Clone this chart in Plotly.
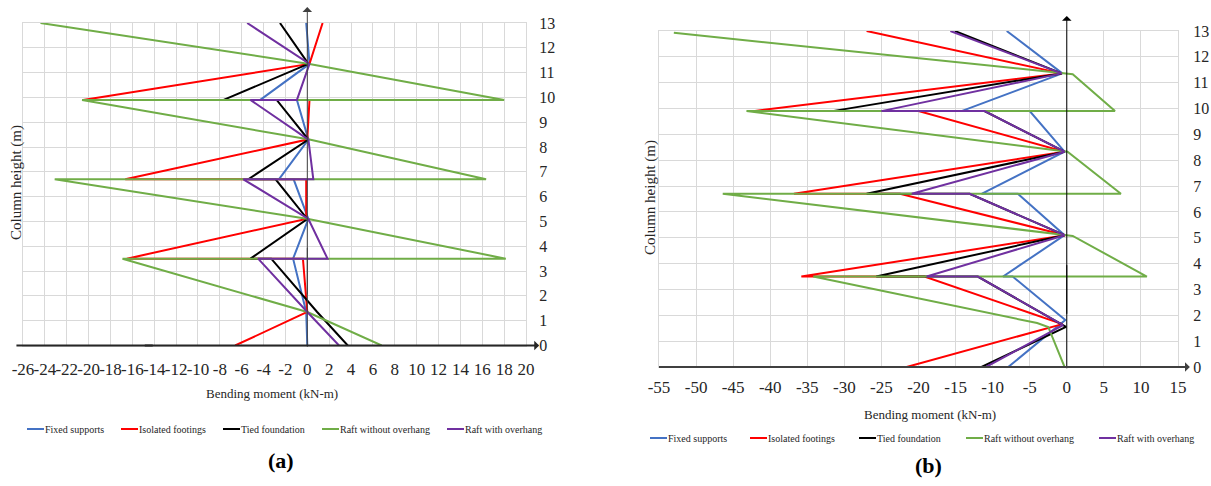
import plotly.graph_objects as go

# ---------------- data ----------------
SERIES = ["Fixed supports", "Isolated footings", "Tied foundation",
          "Raft without overhang", "Raft with overhang"]
COLORS = ["#4472C4", "#FF0000", "#000000", "#70AD47", "#7030A0"]

# Panel (a): column heights (m) and bending moments (kN-m)
A_H = [13, 11.35, 9.9, 9.9, 8.3, 6.7, 6.7, 5.1, 3.5, 3.5, 1.35, 0]
A_FIXED = [-0.1, 0.2, -4.3, -0.95, 0.1, -2.6, -1.25, 0.1, -1.3, -1.3, -0.1, 0.0]
A_ISOLATED = [1.4, 0.2, -20.5, 0.2, 0.0, -16.65, -0.1, -0.1, -16.5, -0.4, 0.0, -6.6]
A_TIED = [-2.5, 0.1, -7.65, -2.8, 0.1, -5.4, -2.9, 0.0, -5.2, -3.3, 0.9, 3.7]
A_RAFT_NO = [-24.4, 0.2, 18.0, -20.6, 0.2, 16.35, -23.1, 0.1, 18.15, -16.9, 0.0, 6.8]
A_RAFT_OH = [-5.5, 0.2, -0.95, -5.2, 0.1, 0.55, -5.85, 0.1, 1.85, -4.5, 0.0, 2.9]

# Panel (b)
B_FIXED_H = [13, 11.36, 9.9, 9.9, 8.33, 6.7, 6.7, 5.1, 3.5, 3.5, 1.82, 0]
B_FIXED = [-8.1, -0.6, -14.2, -5.0, -0.3, -11.5, -6.6, -0.3, -8.6, -7.3, -0.2, -7.9]
B_ISOLATED_H = [13, 11.36, 9.9, 9.9, 8.33, 6.7, 6.7, 5.1, 3.5, 3.5, 1.66, 0]
B_ISOLATED = [-27.0, -0.7, -42.3, -20.0, -0.3, -36.8, -22.5, -0.2, -35.8, -19.2, -0.6, -21.6]
B_TIED_H = [13, 11.36, 9.9, 9.9, 8.33, 6.7, 6.7, 5.1, 3.5, 3.5, 1.55, 0]
B_TIED = [-15.1, -0.7, -31.6, -11.1, -0.3, -27.0, -13.1, -0.3, -25.7, -12.0, -0.1, -11.5]
B_RAFT_NO_H = [12.93, 11.36, 11.33, 9.9, 9.9, 8.33, 6.7, 6.7, 5.1, 5.07, 3.5, 3.5, 1.7, 1.55, 0]
B_RAFT_NO = [-53.0, -0.6, 0.8, 6.5, -43.2, 0.1, 7.3, -46.4, -0.3, 0.8, 10.8, -34.2, -4.0, -2.5, -0.3]
B_RAFT_OH_H = [13, 11.36, 9.9, 9.9, 8.33, 6.7, 6.7, 5.1, 3.5, 3.5, 1.62, 0]
B_RAFT_OH = [-15.7, -0.7, -25.0, -11.1, -0.3, -20.9, -13.1, -0.3, -18.9, -12.0, -0.5, -10.9]

A_X_TICKS = [-26, -24, -22, -20, -18, -16, -14, -12, -10, -8, -6, -4, -2,
             0, 2, 4, 6, 8, 10, 12, 14, 16, 18, 20]
A_X_LABELS = ["-26", "-24", "-22", "-20", "-18", "-16", "-14", "-12", "-10", "-8",
              "-6", "-4", "-2", "0", "2", "4", "6", "8", "10", "12", "14", "16", "18", "20"]
B_X_TICKS = [-55, -50, -45, -40, -35, -30, -25, -20, -15, -10, -5, 0, 5, 10, 15]
B_X_LABELS = ["-55", "-50", "-45", "-40", "-35", "-30", "-25", "-20", "-15", "-10",
              "-5", "0", "5", "10", "15"]
Y_TICKS = [0, 1, 2, 3, 4, 5, 6, 7, 8, 9, 10, 11, 12, 13]
Y_LABELS = ["0", "1", "2", "3", "4", "5", "6", "7", "8", "9", "10", "11", "12", "13"]

X_TITLE = "Bending moment (kN-m)"
Y_TITLE = "Column height (m)"
PANEL_LABELS = ["(a)", "(b)"]

# ---------------- layout constants ----------------
W, H = 1211, 486
FONT = "Liberation Serif, DejaVu Serif, serif"
TXT = "#262626"
GRID = "#d9d9d9"


def fx(px):
    return px / W


def fy(py):
    return 1 - py / H


fig = go.Figure()

a_series = [(A_FIXED, A_H), (A_ISOLATED, A_H), (A_TIED, A_H), (A_RAFT_NO, A_H), (A_RAFT_OH, A_H)]
b_series = [(B_FIXED, B_FIXED_H), (B_ISOLATED, B_ISOLATED_H), (B_TIED, B_TIED_H),
            (B_RAFT_NO, B_RAFT_NO_H), (B_RAFT_OH, B_RAFT_OH_H)]

for i, (xs, hs) in enumerate(a_series):
    fig.add_trace(go.Scatter(x=xs, y=hs, mode="lines", name=SERIES[i],
                             line=dict(color=COLORS[i], width=2),
                             xaxis="x", yaxis="y", showlegend=False))
for i, (xs, hs) in enumerate(b_series):
    fig.add_trace(go.Scatter(x=xs, y=hs, mode="lines", name=SERIES[i],
                             line=dict(color=COLORS[i], width=2),
                             xaxis="x2", yaxis="y2", showlegend=False))

axis_common = dict(showgrid=True, gridcolor=GRID, gridwidth=1, zeroline=False,
                   showline=True, mirror=True, linecolor=GRID, linewidth=1,
                   ticks="", tickangle=0, automargin=False)
xfont = dict(family=FONT, size=17, color=TXT)
yfont = dict(family=FONT, size=16, color=TXT)

fig.update_layout(
    width=W, height=H, margin=dict(l=0, r=0, t=0, b=0, pad=0), autosize=False,
    paper_bgcolor="white", plot_bgcolor="white", showlegend=False,
    xaxis=dict(domain=[fx(23), fx(526)], range=[-26, 20], tickmode="array",
               tickvals=A_X_TICKS, ticktext=A_X_LABELS, anchor="y",
               ticklabelstandoff=8, tickfont=xfont, **axis_common),
    yaxis=dict(domain=[fy(345.5), fy(23)], range=[0, 13], tickmode="array",
               tickvals=Y_TICKS, ticktext=Y_LABELS, side="right", anchor="x",
               ticklabelstandoff=9, tickfont=yfont, **axis_common),
    xaxis2=dict(domain=[fx(659), fx(1178)], range=[-55, 15], tickmode="array",
                tickvals=B_X_TICKS, ticktext=B_X_LABELS, anchor="y2",
                ticklabelstandoff=5, tickfont=xfont, **axis_common),
    yaxis2=dict(domain=[fy(367), fy(31)], range=[0, 13], tickmode="array",
                tickvals=Y_TICKS, ticktext=Y_LABELS, side="right", anchor="x2",
                ticklabelstandoff=11, tickfont=yfont, **axis_common),
)

ann = []


def arrow(xr, yr, x, y, axv, ayv, head, size, width, color):
    return dict(x=x, y=y, ax=axv, ay=ayv, xref=xr, yref=yr, axref=xr, ayref=yr,
                text="", showarrow=True, arrowhead=head, arrowsize=size,
                arrowwidth=width, arrowcolor=color)


# axis arrows (panel a)
ann.append(arrow("x", "y", 0, 13.64, 0, 2, 1, 1.6, 1, "#404040"))
ann.append(arrow("x", "y", 0, -0.05, 0, 4, 0, 1, 1, "#404040"))
ann.append(arrow("x", "y", 21.2, 0, -15, 0, 1, 0.9, 1.8, "#262626"))
ann.append(arrow("x", "y", -26.6, 0, -14, 0, 0, 1, 1.8, "#262626"))
# axis arrows (panel b)
ann.append(arrow("x2", "y2", 0, 13.58, 0, 2, 1, 1.6, 1, "#000000"))
ann.append(arrow("x2", "y2", 0, -0.05, 0, 4, 0, 1, 1, "#000000"))
ann.append(arrow("x2", "y2", 16.6, 0, -40, 0, 1, 0.9, 1.8, "#404040"))
ann.append(arrow("x2", "y2", -55, 0, -39, 0, 0, 1, 1.8, "#404040"))


def label(px, py, text, size, angle=0, color=TXT, xanchor="center"):
    return dict(x=fx(px), y=fy(py), xref="paper", yref="paper", text=text,
                textangle=angle, showarrow=False, xanchor=xanchor, yanchor="middle",
                borderpad=0, font=dict(family=FONT, size=size, color=color))


# axis titles
ann.append(label(272, 393, X_TITLE, 13))
ann.append(label(930, 414, X_TITLE, 13))
ann.append(label(16, 183, Y_TITLE, 15, angle=-90))
ann.append(label(650, 198, Y_TITLE, 15, angle=-90))

# panel labels
ann.append(label(281, 460, "<b>" + PANEL_LABELS[0] + "</b>", 22, color="#000000"))
ann.append(label(928, 465, "<b>" + PANEL_LABELS[1] + "</b>", 22, color="#000000"))

# manual legends
shapes = []
LEG_A_X = [27, 121, 223, 322, 447]
LEG_A_Y = 429
LEG_B_X = [650, 750, 859, 966, 1099]
LEG_B_Y = 438
for xs0, ly in ((LEG_A_X, LEG_A_Y), (LEG_B_X, LEG_B_Y)):
    for i, x0 in enumerate(xs0):
        shapes.append(dict(type="line", xref="paper", yref="paper",
                           x0=fx(x0), x1=fx(x0 + 17), y0=fy(ly), y1=fy(ly),
                           line=dict(color=COLORS[i], width=2)))
        ann.append(label(x0 + 17, ly, SERIES[i], 10, xanchor="left"))

fig.update_layout(annotations=ann, shapes=shapes)
fig.write_html("out.html", config={"displayModeBar": False, "responsive": False},
               post_script="document.body.style.margin='0';document.body.style.padding='0';"
                           "document.body.style.overflow='hidden';")
